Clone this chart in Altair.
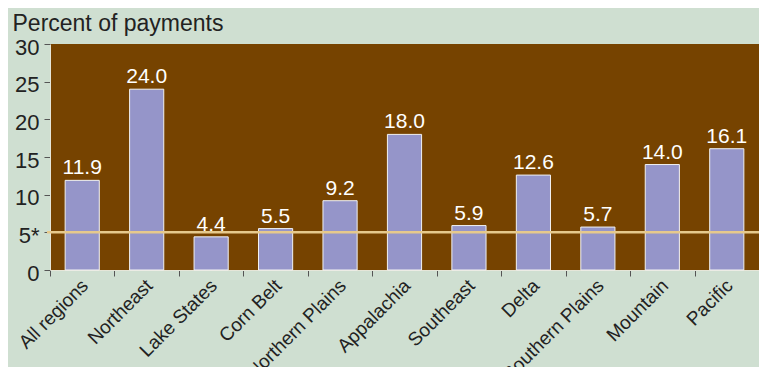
import altair as alt
import pandas as pd

regions = ["All regions", "Northeast", "Lake States", "Corn Belt", "Northern Plains",
           "Appalachia", "Southeast", "Delta", "Southern Plains", "Mountain", "Pacific"]
percents = [11.9, 24.0, 4.4, 5.5, 9.2, 18.0, 5.9, 12.6, 5.7, 14.0, 16.1]
value_labels = ["11.9", "24.0", "4.4", "5.5", "9.2", "18.0", "5.9", "12.6", "5.7", "14.0", "16.1"]
y_ticks = [0, 5, 10, 15, 20, 25, 30]
threshold = [5]

df = pd.DataFrame({"region": regions, "pct": percents, "label": value_labels})
thr = pd.DataFrame({"t": threshold})

FONT = "Liberation Sans"

x_axis = alt.Axis(title=None, labelAngle=-45, tickBand="extent", tickSize=6,
                  tickColor="#555555", labelFontSize=19, labelColor="#222222",
                  labelFont=FONT, labelPadding=0, labelOffset=-4,
                  labelOverlap=False, domainColor="#e6e6d8")
y_axis = alt.Axis(values=y_ticks, grid=False, tickSize=6, tickColor="#555555",
                  labelExpr="datum.value == 5 ? '5*' : datum.label",
                  labelFontSize=22, labelColor="#222222", labelFont=FONT,
                  labelPadding=5, labelOffset=3, labelOverlap=False,
                  domainColor="#e6e6d8",
                  title="Percent of payments", titleAngle=0, titleAlign="left",
                  titleBaseline="alphabetic", titleX=-38, titleY=-14,
                  titleFontSize=23, titleFontWeight="normal", titleColor="#222222",
                  titleFont=FONT)
y_scale = alt.Scale(domain=[0, 30], nice=False)
x_scale = alt.Scale(paddingInner=0, paddingOuter=0)

bars = alt.Chart(df).mark_bar(width=alt.RelativeBandSize(0.53), fill="#9595c9",
                              stroke="#f2f2f2", strokeWidth=1).encode(
    x=alt.X("region:N", sort=regions, scale=x_scale, axis=x_axis),
    y=alt.Y("pct:Q", scale=y_scale, axis=y_axis))

text = alt.Chart(df).mark_text(color="white", fontSize=21, font=FONT,
                               baseline="alphabetic", dy=-6).encode(
    x=alt.X("region:N", sort=regions, scale=x_scale, axis=x_axis),
    y=alt.Y("pct:Q", scale=y_scale, axis=y_axis),
    text="label:N")

rule = alt.Chart(thr).mark_rule(color="#e6c98c", strokeWidth=2.5, clip=False).encode(
    y=alt.Y("t:Q", scale=y_scale, axis=y_axis), x=alt.value(-3), x2=alt.value(709))

chart = alt.layer(bars, rule, text).properties(
    width=709, height=226,
    padding={"left": 42, "top": 36, "right": 0, "bottom": 97},
    autosize=alt.AutoSizeParams(type="none"),
    background="#cfdfd1",
).configure_view(fill="#764300", strokeWidth=0)

chart.save("out.html", embed_options={"renderer": "svg", "actions": False})
